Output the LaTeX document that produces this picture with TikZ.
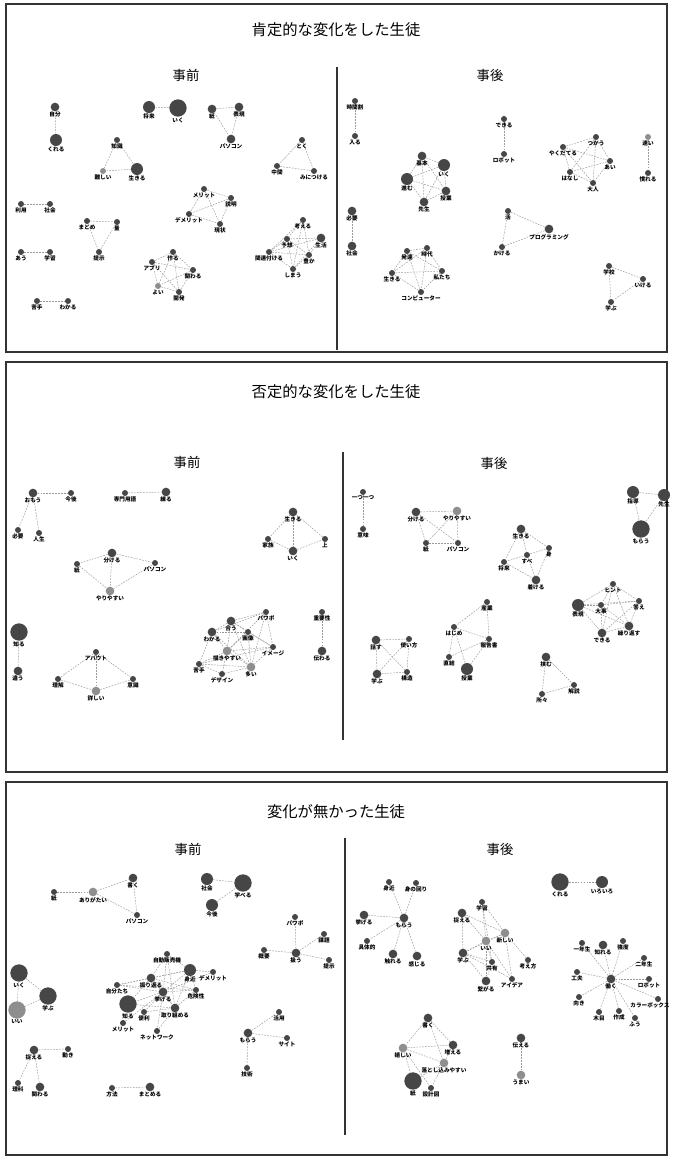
\documentclass[tikz,border=0pt]{standalone}
\usepackage{fontspec}
\newfontfamily\jp{Noto Sans CJK JP}
\definecolor{dk}{HTML}{464646}
\definecolor{gl}{HTML}{8E8E8E}
\definecolor{frame}{HTML}{333333}
\pgfdeclarelayer{edgelayer}
\pgfsetlayers{edgelayer,main}
\tikzset{
  nbase/.style={circle,fill=dk,inner sep=0pt},
  ns/.style={nbase,minimum size=4.5pt},
  nm/.style={nbase,minimum size=6.5pt},
  nl/.style={nbase,minimum size=9pt},
  nx/.style={nbase,minimum size=13pt},
  lg/.style={fill=gl},
  lab/.style={inner sep=0.2pt,label distance=0pt,font=\jp\bfseries\fontsize{4.2}{4.2}\selectfont},
  ed/.style={draw=black!40,line width=0.35pt,dash pattern=on 1.3pt off 0.9pt},
  panel/.style={draw=frame,line width=1.3pt},
  divider/.style={draw=frame,line width=1pt},
  ttl/.style={font=\jp\fontsize{11.5}{12}\selectfont,inner sep=0},
  hdr/.style={font=\jp\fontsize{10}{11}\selectfont,inner sep=0}
}
\newcommand\nd[5]{\node[#4,label={[lab]below:#5}] (#1) at (#2,#3) {};}
\newcommand\eds[1]{\begin{pgfonlayer}{edgelayer}\foreach \a/\b in {#1}{\draw[ed] (\a) -- (\b);}\end{pgfonlayer}}
\begin{document}
\begin{tikzpicture}[x=0.75pt,y=-0.75pt]
\useasboundingbox (0,0) rectangle (672,1157);
% ===== panels =====
\draw[panel] (6,4) rectangle (667,352);
\draw[panel] (6,362) rectangle (667,772);
\draw[panel] (6,782) rectangle (667,1155);
\node[ttl] (t1) at (336,30) {肯定的な変化をした生徒};
\node[ttl] (t2) at (336,392) {否定的な変化をした生徒};
\node[ttl] (t3) at (336,812) {変化が無かった生徒};
\node[hdr] (h1a) at (186,75) {事前};
\node[hdr] (h1b) at (490,75) {事後};
\node[hdr] (h2a) at (187,462) {事前};
\node[hdr] (h2b) at (494,463) {事後};
\node[hdr] (h3a) at (188,849) {事前};
\node[hdr] (h3b) at (500,849) {事後};
\coordinate (d1a) at (337,67); \coordinate (d1b) at (337,350);
\coordinate (d2a) at (343,452); \coordinate (d2b) at (343,740);
\coordinate (d3a) at (345,838); \coordinate (d3b) at (345,1135);
\draw[divider] (d1a) -- (d1b);
\draw[divider] (d2a) -- (d2b);
\draw[divider] (d3a) -- (d3b);
% ===== P1 left =====
\nd{A1}{55}{107}{nm}{自分}
\nd{A2}{56}{140}{nl}{くれる}
\nd{A3}{149}{107}{nl}{将来}
\nd{A4}{178}{108}{nx}{いく}
\nd{A5}{212}{109}{nm}{紙}
\nd{A6}{239}{107}{nm}{表現}
\nd{A7}{231}{139}{nm}{パソコン}
\nd{A8}{117}{140}{ns}{知識}
\nd{A9}{103}{171}{ns,lg}{難しい}
\nd{A10}{137}{169}{nl}{生きる}
\nd{A11}{302}{140}{ns}{とく}
\nd{A12}{277}{166}{ns}{中間}
\nd{A13}{314}{171}{ns}{みにつける}
\nd{A14}{21}{204}{ns}{利用}
\nd{A15}{50}{204}{ns}{社会}
\nd{A16}{204}{189}{ns}{メリット}
\nd{A17}{231}{198}{ns}{説明}
\nd{A18}{189}{214}{ns}{デメリット}
\nd{A19}{220}{224}{ns}{現状}
\nd{A20}{87}{221}{ns}{まとめ}
\nd{A21}{117}{222}{ns}{量}
\nd{A22}{99}{252}{ns}{提示}
\nd{A23}{21}{252}{ns}{あう}
\nd{A24}{50}{252}{ns}{学習}
\nd{A25}{37}{301}{ns}{苦手}
\nd{A26}{68}{301}{ns}{わかる}
\nd{A27}{173}{252}{ns}{作る}
\nd{A28}{152}{262}{ns}{アプリ}
\nd{A29}{193}{270}{ns}{関わる}
\nd{A30}{158}{286}{ns,lg}{よい}
\nd{A31}{179}{292}{ns}{開発}
\nd{A32}{303}{220}{ns}{考える}
\nd{A33}{287}{239}{ns}{予想}
\nd{A34}{321}{238}{nm}{生活}
\nd{A35}{269}{252}{ns}{関連付ける}
\nd{A36}{309}{255}{ns}{豊か}
\nd{A37}{293}{269}{ns}{しまう}
\eds{A1/A2,A3/A4,A5/A6,A5/A7,A6/A7,A8/A9,A8/A10,A9/A10,A11/A12,A11/A13,A12/A13,A14/A15,
A16/A17,A16/A18,A16/A19,A17/A18,A17/A19,A18/A19,A20/A21,A20/A22,A21/A22,A23/A24,A25/A26,
A27/A28,A27/A29,A27/A30,A27/A31,A28/A29,A28/A30,A28/A31,A29/A30,A29/A31,A30/A31,
A32/A33,A32/A35,A32/A36,A32/A37,A33/A34,A33/A35,A33/A36,A33/A37,A34/A35,A34/A36,A34/A37,A35/A36,A35/A37,A36/A37}
% ===== P1 right =====
\nd{B1}{355}{101}{ns}{時間割}
\nd{B2}{355}{136}{ns}{入る}
\nd{B3}{504}{119}{ns}{できる}
\nd{B4}{504}{154}{ns}{ロボット}
\nd{B5}{422}{156}{nm}{基本}
\nd{B6}{444}{165}{nl}{いく}
\nd{B7}{407}{179}{nl}{進む}
\nd{B8}{446}{191}{nm}{授業}
\nd{B9}{424}{202}{nm}{先生}
\nd{B10}{563}{147}{ns}{やくだてる}
\nd{B11}{596}{137}{ns}{つかう}
\nd{B12}{610}{161}{ns}{あい}
\nd{B13}{570}{172}{ns}{はなし}
\nd{B14}{593}{183}{ns}{大人}
\nd{B15}{648}{137}{ns,lg}{速い}
\nd{B16}{648}{173}{ns}{慣れる}
\nd{B17}{352}{211}{nm}{必要}
\nd{B18}{352}{246}{nm}{社会}
\nd{B19}{508}{211}{ns}{活}
\nd{B20}{549}{229}{nm}{プログラミング}
\nd{B21}{502}{247}{ns}{かける}
\nd{B22}{407}{251}{ns}{発達}
\nd{B23}{427}{248}{ns}{時代}
\nd{B24}{392}{273}{ns}{生きる}
\nd{B25}{442}{271}{ns}{私たち}
\nd{B26}{421}{292}{ns}{コンピューター}
\nd{B27}{609}{266}{ns}{学校}
\nd{B28}{643}{279}{ns}{いける}
\nd{B29}{611}{302}{ns}{学ぶ}
\eds{B1/B2,B3/B4,B5/B6,B5/B7,B5/B8,B5/B9,B6/B7,B6/B8,B6/B9,B7/B8,B7/B9,B8/B9,
B10/B11,B10/B12,B10/B13,B10/B14,B11/B12,B11/B13,B11/B14,B12/B13,B12/B14,B13/B14,B15/B16,B17/B18,
B19/B20,B19/B21,B20/B21,B22/B23,B22/B24,B22/B25,B22/B26,B23/B24,B23/B25,B23/B26,B24/B25,B24/B26,B25/B26,
B27/B28,B27/B29,B28/B29}
% ===== P2 left =====
\nd{C1}{33}{493}{nm}{おもう}
\nd{C2}{71}{493}{ns}{今後}
\nd{C3}{18}{530}{ns}{必要}
\nd{C4}{39}{533}{ns}{人生}
\nd{C5}{125}{493}{ns}{専門用語}
\nd{C6}{166}{492}{nm}{練る}
\nd{C7}{293}{512}{nm}{生きる}
\nd{C8}{268}{539}{ns}{家族}
\nd{C9}{325}{539}{ns}{上}
\nd{C10}{293}{551}{nm}{いく}
\nd{C11}{112}{553}{nm}{分ける}
\nd{C12}{77}{564}{ns}{紙}
\nd{C13}{155}{563}{ns}{パソコン}
\nd{C14}{110}{591}{nm,lg}{やりやすい}
\nd{C15}{19}{632}{nx}{知る}
\nd{C16}{18}{671}{nm}{違う}
\nd{C17}{96}{652}{ns}{アバウト}
\nd{C18}{58}{679}{ns}{理解}
\nd{C19}{133}{679}{ns}{意識}
\nd{C20}{96}{691}{nm,lg}{詳しい}
\nd{C21}{266}{612}{ns}{パワポ}
\nd{C22}{231}{621}{nm}{合う}
\nd{C23}{248}{632}{ns}{画像}
\nd{C24}{212}{632}{nm}{わかる}
\nd{C25}{273}{647}{ns}{イメージ}
\nd{C26}{227}{651}{nm,lg}{描きやすい}
\nd{C27}{199}{664}{ns}{苦手}
\nd{C28}{251}{667}{nm,lg}{多い}
\nd{C29}{222}{674}{ns}{デザイン}
\nd{C30}{322}{612}{ns}{重要性}
\nd{C31}{322}{651}{nm}{伝わる}
\eds{C1/C2,C1/C3,C1/C4,C5/C6,C7/C8,C7/C9,C7/C10,C8/C10,C10/C9,C11/C12,C11/C13,C11/C14,C12/C14,C13/C14,
C15/C16,C17/C18,C17/C19,C17/C20,C18/C20,C19/C20,
C21/C22,C21/C24,C21/C25,C21/C28,C21/C26,C22/C24,C22/C23,C22/C25,C22/C26,C22/C28,C23/C24,C23/C25,C23/C26,
C23/C28,C24/C26,C24/C27,C24/C28,C25/C26,C25/C28,C25/C27,C26/C27,C26/C28,C26/C29,C27/C28,C28/C29,C27/C29,C30/C31}
% ===== P2 right =====
\nd{D1}{363}{492}{ns}{一つ一つ}
\nd{D2}{363}{529}{ns}{意味}
\nd{D3}{416}{512}{nm}{分ける}
\nd{D4}{457}{511}{nm,lg}{やりやすい}
\nd{D5}{426}{543}{ns}{紙}
\nd{D6}{458}{543}{ns}{パソコン}
\nd{D7}{521}{529}{nm}{生きる}
\nd{D8}{549}{548}{ns}{身}
\nd{D9}{527}{555}{ns}{すべ}
\nd{D10}{504}{562}{ns}{将来}
\nd{D11}{536}{580}{nm}{着ける}
\nd{D12}{633}{492}{nl}{指導}
\nd{D13}{664}{495}{nl}{先生}
\nd{D14}{641}{529}{nx}{もらう}
\nd{D15}{613}{584}{ns}{ヒント}
\nd{D16}{578}{605}{nl}{表現}
\nd{D17}{601}{605}{ns}{大事}
\nd{D18}{639}{601}{ns}{答え}
\nd{D19}{629}{626}{nm}{繰り返す}
\nd{D20}{602}{633}{nm}{できる}
\nd{D21}{487}{602}{ns}{産業}
\nd{D22}{454}{627}{ns}{はじめ}
\nd{D23}{489}{639}{ns}{報告書}
\nd{D24}{449}{657}{ns}{直結}
\nd{D25}{467}{669}{nl}{授業}
\nd{D26}{376}{640}{nm}{話す}
\nd{D27}{409}{639}{ns}{使い方}
\nd{D28}{377}{674}{nm}{学ぶ}
\nd{D29}{407}{672}{ns}{構造}
\nd{D30}{546}{657}{nm}{挟む}
\nd{D31}{574}{685}{ns}{解説}
\nd{D32}{542}{694}{ns}{所々}
\eds{D1/D2,D3/D4,D3/D5,D3/D6,D4/D5,D4/D6,D5/D6,D7/D8,D7/D9,D7/D10,D8/D10,D8/D11,D9/D11,D10/D11,
D12/D13,D12/D14,D13/D14,D15/D16,D15/D17,D15/D18,D15/D19,D15/D20,D16/D17,D16/D18,D16/D19,D16/D20,
D17/D18,D17/D19,D17/D20,D18/D19,D18/D20,D19/D20,
D21/D22,D21/D23,D22/D23,D22/D24,D22/D25,D23/D24,D23/D25,D26/D27,D26/D28,D26/D29,D27/D28,D27/D29,D28/D29,
D30/D31,D30/D32,D31/D32}
% ===== P3 left =====
\nd{E1}{54}{892}{ns}{紙}
\nd{E2}{93}{892}{nm,lg}{ありがたい}
\nd{E3}{133}{878}{nm}{書く}
\nd{E4}{137}{915}{ns}{パソコン}
\nd{E5}{207}{879}{nl}{社会}
\nd{E6}{243}{883}{nx}{学べる}
\nd{E7}{212}{905}{nl}{今後}
\nd{E8}{295}{917}{ns}{パワポ}
\nd{E9}{324}{934}{ns}{課題}
\nd{E10}{264}{950}{ns}{概要}
\nd{E11}{296}{953}{nm}{扱う}
\nd{E12}{329}{960}{ns}{提示}
\nd{E13}{19}{973}{nx}{いく}
\nd{E14}{48}{996}{nx}{学ぶ}
\nd{E15}{17}{1010}{nx,lg}{いい}
\nd{E16}{167}{954}{ns}{自動販売機}
\nd{E17}{190}{970}{nl}{身近}
\nd{E18}{213}{972}{ns}{デメリット}
\nd{E19}{151}{978}{nm}{振り返る}
\nd{E20}{117}{985}{ns}{自分たち}
\nd{E21}{163}{992}{nm}{挙げる}
\nd{E22}{196}{990}{ns}{危険性}
\nd{E23}{128}{1004}{nx}{知る}
\nd{E24}{144}{1012}{ns}{便利}
\nd{E25}{175}{1008}{nm}{取り組める}
\nd{E26}{123}{1023}{ns}{メリット}
\nd{E27}{157}{1031}{ns}{ネットワーク}
\nd{E28}{279}{1012}{ns}{活用}
\nd{E29}{248}{1033}{nm}{もらう}
\nd{E30}{287}{1038}{ns}{サイト}
\nd{E31}{247}{1068}{ns}{技術}
\nd{E32}{34}{1050}{nm}{捉える}
\nd{E33}{68}{1049}{ns}{動き}
\nd{E34}{18}{1083}{ns}{理科}
\nd{E35}{40}{1087}{nm}{関わる}
\nd{E36}{112}{1088}{ns}{方法}
\nd{E37}{150}{1087}{nm}{まとめる}
\eds{E1/E2,E2/E3,E2/E4,E3/E4,E5/E6,E7/E6,E11/E8,E11/E9,E11/E10,E11/E12,E13/E14,E13/E15,E14/E15,
E16/E19,E16/E21,E16/E17,E16/E25,E17/E19,E17/E20,E17/E21,E17/E22,E17/E25,E17/E18,E19/E20,E19/E21,E19/E22,
E19/E23,E19/E25,E20/E21,E20/E22,E21/E23,E21/E25,E21/E22,E21/E24,E21/E27,E22/E25,E23/E25,E24/E25,E26/E21,
E27/E25,E18/E21,E29/E28,E29/E30,E29/E31,E32/E33,E32/E34,E32/E35,E36/E37}
% ===== P3 right =====
\nd{F1}{389}{882}{ns}{身近}
\nd{F2}{416}{883}{ns}{身の回り}
\nd{F3}{364}{915}{nm}{挙げる}
\nd{F4}{404}{918}{nm}{もらう}
\nd{F5}{367}{941}{ns}{具体的}
\nd{F6}{393}{954}{nm}{触れる}
\nd{F7}{417}{956}{nm}{感じる}
\nd{F8}{560}{882}{nx}{くれる}
\nd{F9}{602}{882}{nl}{いろいろ}
\nd{F10}{482}{902}{ns}{学習}
\nd{F11}{462}{913}{nm}{捉える}
\nd{F12}{505}{933}{nm,lg}{新しい}
\nd{F13}{486}{941}{nm,lg}{いい}
\nd{F14}{463}{953}{nm}{学ぶ}
\nd{F15}{492}{962}{ns}{共有}
\nd{F16}{528}{960}{ns}{考え方}
\nd{F17}{486}{981}{nm}{繋がる}
\nd{F18}{512}{979}{ns}{アイデア}
\nd{F19}{611}{979}{nm}{働く}
\nd{F20}{582}{943}{ns}{一年生}
\nd{F21}{603}{945}{nm}{知れる}
\nd{F22}{623}{941}{ns}{強度}
\nd{F23}{644}{958}{ns}{二年生}
\nd{F24}{577}{972}{ns}{工夫}
\nd{F25}{649}{979}{ns}{ロボット}
\nd{F26}{579}{997}{ns}{向き}
\node[ns,label={[lab,xshift=-6pt]below:カラーボックス}] (F27) at (658,999) {};
\nd{F28}{599}{1012}{ns}{木目}
\nd{F29}{619}{1011}{ns}{作成}
\nd{F30}{635}{1018}{ns}{ふう}
\nd{F31}{428}{1018}{nm}{書く}
\nd{F32}{403}{1048}{nm,lg}{嬉しい}
\nd{F33}{453}{1045}{nm}{増える}
\nd{F34}{444}{1063}{nm,lg}{落とし込みやすい}
\nd{F35}{413}{1081}{nx}{紙}
\nd{F36}{431}{1088}{ns}{設計図}
\nd{F37}{521}{1038}{nm}{伝える}
\nd{F38}{521}{1075}{nm,lg}{うまい}
\eds{F4/F1,F4/F2,F4/F3,F4/F5,F4/F6,F4/F7,F8/F9,
F10/F12,F10/F13,F11/F12,F11/F13,F11/F14,F12/F13,F12/F14,F12/F16,F12/F18,F13/F14,F13/F15,F13/F17,F13/F18,
F14/F15,F14/F17,F14/F18,F15/F17,F10/F15,
F19/F20,F19/F21,F19/F22,F19/F23,F19/F24,F19/F25,F19/F26,F19/F27,F19/F28,F19/F29,F19/F30,
F31/F32,F31/F33,F31/F34,F32/F33,F32/F34,F32/F35,F32/F36,F33/F34,F34/F35,F34/F36,F37/F38}
\end{tikzpicture}
\end{document}
